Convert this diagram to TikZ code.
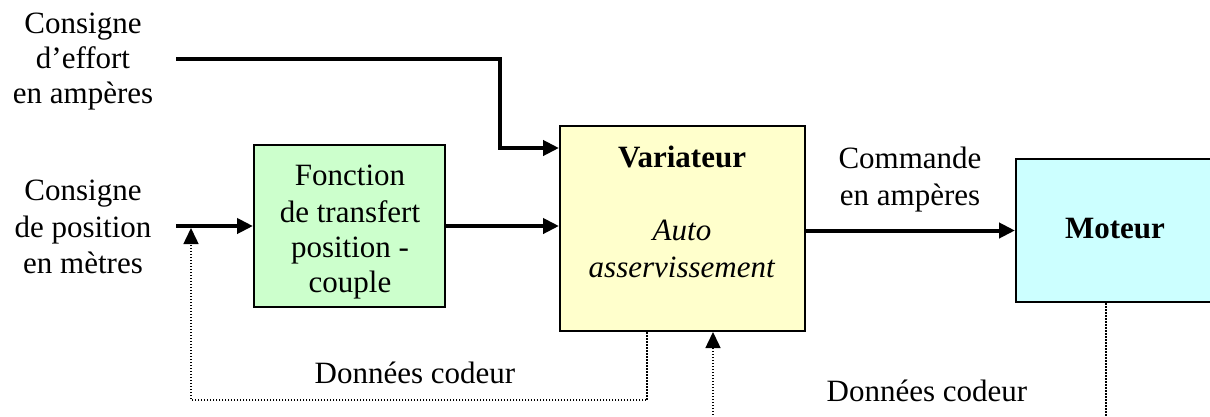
\documentclass[tikz,border=0pt]{standalone}
\usepackage{fontspec}
\setmainfont{Liberation Serif}
\usetikzlibrary{arrows.meta}
\definecolor{greenc}{HTML}{CCFFCC}
\definecolor{yellowc}{HTML}{FFFFCC}
\definecolor{cyanc}{HTML}{CCFFFF}
\begin{document}
\begin{tikzpicture}[x=1pt,y=-1pt,
  every node/.style={font=\fontsize{31}{36}\selectfont, inner sep=0pt},
  txt/.style={anchor=base},
  blk/.style={draw=black, line width=2pt, inner sep=0pt},
  thk/.style={line width=4pt, -{Triangle[length=16pt,width=15pt]}},
  dots/.style={line width=1.5pt, dash pattern=on 1.5pt off 1.5pt},
  dotarrow/.style={dots, -{Triangle[length=16pt,width=15pt]}}
]
\useasboundingbox (0,0) rectangle (1210,416);
% boxes
\node[blk, fill=greenc, minimum width=191pt, minimum height=162pt] (tf) at (349.5,226) {};
\node[blk, fill=yellowc, minimum width=245pt, minimum height=205pt] (var) at (682.5,228.5) {};
\node[blk, fill=cyanc, minimum width=196pt, minimum height=143pt] (mot) at (1114,230.5) {};
% texts
\node[txt] (tf1) at (350,185) {Fonction};
\node[txt] (tf2) at (350,222) {de transfert};
\node[txt] (tf3) at (350,257) {position -};
\node[txt] (tf4) at (350,292) {couple};
\node[txt] (vartitle) at (682,167) {\textbf{Variateur}};
\node[txt] (var1) at (682,240) {\textit{Auto}};
\node[txt] (var2) at (682,277) {\textit{asservissement}};
\node[txt] (mottxt) at (1115,238) {\textbf{Moteur}};
\node[txt] (c1a) at (83,33) {Consigne};
\node[txt] (c1b) at (83,68) {d’effort};
\node[txt] (c1c) at (83,103) {en ampères};
\node[txt] (c2a) at (83,200) {Consigne};
\node[txt] (c2b) at (83,237) {de position};
\node[txt] (c2c) at (83,273) {en mètres};
\node[txt] (cmd1) at (910,168) {Commande};
\node[txt] (cmd2) at (910,205) {en ampères};
\node[txt] (d1) at (415,383) {Données codeur};
\node[txt] (d2) at (927,401) {Données codeur};
% coordinates
\coordinate (e1) at (176,59);
\coordinate (k1) at (500,148);
\coordinate (e2) at (176,226);
\coordinate (f1) at (647,400);
\coordinate (f2) at (191,400);
\coordinate (f2t) at (191,228);
\coordinate (f3) at (713,418);
\coordinate (f4) at (1106,418);
% connectors
\draw[thk] (e1) -| (k1) -- (var.west |- k1);
\draw[thk] (e2) -- (tf.west |- e2);
\draw[thk] (tf.east |- e2) -- (var.west |- e2);
\draw[thk] (var.east |- mot.west) -- (mot.west);
\draw[dotarrow] (var.south -| f1) -- (f1) -- (f2) -- (f2t);
\draw[dotarrow] (f3) -- (var.south -| f3);
\draw[dots] (mot.south -| f4) -- (f4);
\end{tikzpicture}
\end{document}
